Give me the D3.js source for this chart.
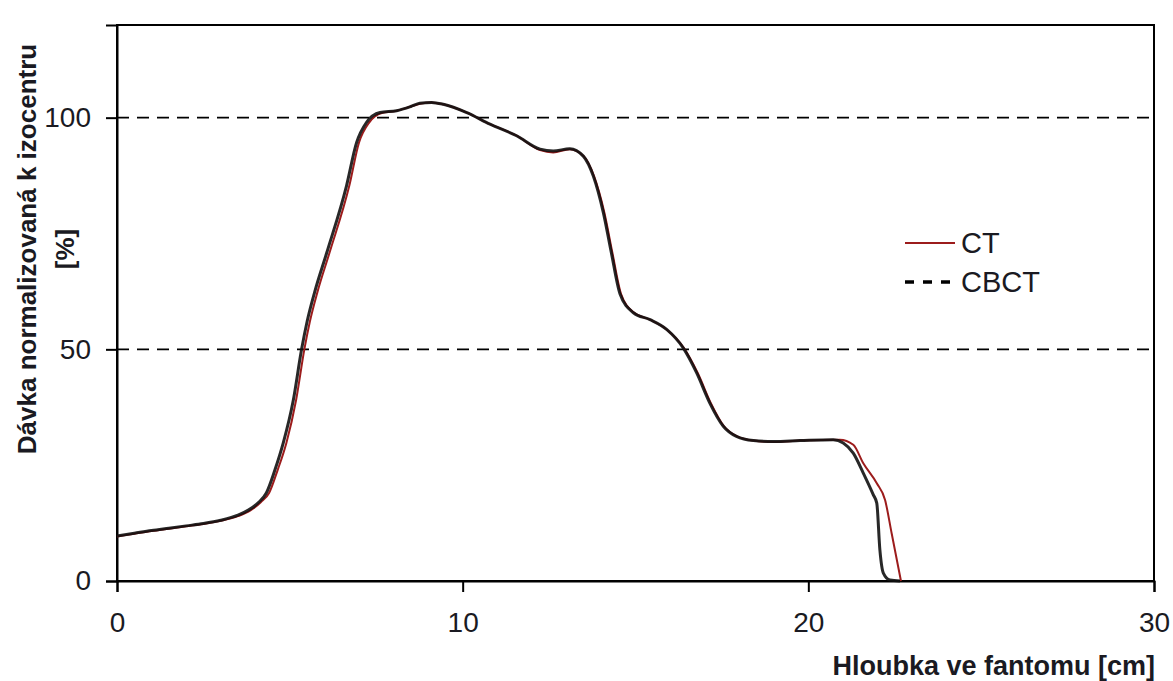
<!DOCTYPE html>
<html>
<head>
<meta charset="utf-8">
<script src="https://cdn.jsdelivr.net/npm/d3@7"></script>
<style>
  body { margin: 0; background: #fff; }
  text { font-family: "Liberation Sans", Arial, sans-serif; }
</style>
</head>
<body>
<script>
let w = 1173;
let h = 681;
let margin = {top: 25, right: 19, bottom: 100, left: 117};

// hloubka [cm] a davka [%] - CBCT
let cbctDepth = [0, 0.5, 1, 1.5, 2, 2.5, 3, 3.5, 3.8, 4.1, 4.32, 4.57, 4.81, 5.1, 5.34, 5.5, 5.72, 6.07, 6.64, 6.93, 7.22, 7.61, 8.09, 8.5, 8.76, 9.1, 9.44, 10.12, 10.79, 11.56, 12.24, 12.62, 13.1, 13.49, 13.78, 14.07, 14.3, 14.55, 14.94, 15.42, 15.9, 16.38, 16.77, 17.15, 17.54, 17.92, 18.41, 19.0, 19.76, 20.72, 21.01, 21.3, 21.59, 21.88, 21.98, 22.07, 22.17, 22.36, 22.65];
let cbctDose  = [9.7, 10.3, 10.9, 11.4, 11.9, 12.4, 13.1, 14.2, 15.3, 17.0, 19.0, 24.0, 29.8, 39.0, 50.0, 56.0, 62.4, 70.9, 85.3, 94.6, 99.0, 101.1, 101.5, 102.4, 103.1, 103.3, 102.9, 101.1, 98.6, 96.1, 93.2, 92.8, 93.3, 91.7, 87.4, 79.5, 70.9, 62.0, 57.9, 56.4, 54.3, 50.3, 44.9, 38.4, 33.4, 31.2, 30.3, 30.1, 30.3, 30.5, 29.8, 27.6, 23.3, 18.6, 16.8, 6.7, 1.7, 0.2, 0];

// CT
let ctDepth = [0, 0.5, 1, 1.5, 2, 2.5, 3, 3.5, 3.85, 4.16, 4.4, 4.65, 4.9, 5.18, 5.42, 5.58, 5.8, 6.15, 6.72, 7.0, 7.3, 7.66, 8.1, 8.5, 8.76, 9.1, 9.44, 10.12, 10.79, 11.56, 12.24, 12.62, 13.1, 13.5, 13.8, 14.1, 14.33, 14.58, 14.96, 15.42, 15.9, 16.4, 16.8, 17.18, 17.56, 17.94, 18.41, 19.0, 19.76, 20.91, 21.3, 21.59, 21.98, 22.22, 22.41, 22.68];
let ctDose  = [9.6, 10.2, 10.8, 11.3, 11.8, 12.3, 13.0, 14.0, 15.2, 17.0, 19.0, 24.0, 29.8, 39.0, 50.0, 56.0, 62.4, 70.9, 85.3, 94.6, 99.0, 101.0, 101.5, 102.4, 103.0, 103.3, 102.9, 101.1, 98.6, 96.1, 93.0, 92.5, 93.2, 91.7, 87.4, 79.5, 70.9, 62.0, 57.9, 56.4, 54.3, 50.3, 44.9, 38.4, 33.4, 31.2, 30.3, 30.0, 30.3, 30.5, 29.4, 25.4, 21.1, 17.5, 10.3, 0];

let xTicks = [0, 10, 20, 30];
let yTicks = [0, 50, 100];
let gridValues = [50, 100];
let seriesNames = ["CT", "CBCT"];

let svg = d3.select("body")
            .append("svg")
            .attr("width", w)
            .attr("height", h);

let x = d3.scaleLinear([0, 30], [margin.left, w - margin.right]);
let y = d3.scaleLinear([0, 120], [h - margin.bottom, margin.top]);

// mrizka
svg.selectAll(".grid")
   .data(gridValues)
   .enter()
   .append("line")
   .attr("x1", x(0))
   .attr("x2", x(30))
   .attr("y1", d => y(d))
   .attr("y2", d => y(d))
   .attr("stroke", "#000")
   .attr("stroke-width", 1.6)
   .attr("stroke-dasharray", "12,8");

// ramecek
svg.append("rect")
   .attr("x", x(0))
   .attr("y", y(120))
   .attr("width", x(30) - x(0))
   .attr("height", y(0) - y(120))
   .attr("fill", "none")
   .attr("stroke", "#000")
   .attr("stroke-width", 2);

let xAxis = d3.axisBottom(x).tickValues(xTicks).tickSize(11).tickPadding(20);
let yAxis = d3.axisLeft(y).tickValues(yTicks).tickSize(11).tickPadding(15);

let gx = svg.append("g")
   .attr("transform", `translate(0, ${y(0)})`)
   .call(xAxis);
let gy = svg.append("g")
   .attr("transform", `translate(${x(0)}, 0)`)
   .call(yAxis);

[gx, gy].forEach(g => {
   g.select(".domain").attr("stroke", "#000").attr("stroke-width", 2);
   g.selectAll(".tick line").attr("stroke", "#000").attr("stroke-width", 2);
   g.selectAll(".tick text")
    .attr("fill", "#1a1a22")
    .style("font-size", "28px")
    .style("font-family", "'Liberation Sans', Arial, sans-serif");
});

let line = d3.line()
             .x(d => x(d[0]))
             .y(d => y(d[1]))
             .curve(d3.curveMonotoneX);

let cbct = d3.zip(cbctDepth, cbctDose);
let ct = d3.zip(ctDepth, ctDose);

svg.append("path")
   .datum(ct)
   .attr("d", line)
   .attr("fill", "none")
   .attr("stroke", "#9c1c1c")
   .attr("stroke-width", 2);

svg.append("path")
   .datum(cbct)
   .attr("d", line)
   .attr("fill", "none")
   .attr("stroke", "#111")
   .attr("stroke-width", 3)
   .attr("stroke-opacity", 0.9);

// popisky os
svg.append("text")
   .text("Hloubka ve fantomu [cm]")
   .attr("x", 1155)
   .attr("y", 675)
   .attr("text-anchor", "end")
   .attr("font-weight", "bold")
   .attr("font-size", 27)
   .attr("fill", "#1a1a22");

let yTitle = svg.append("text")
   .attr("transform", "translate(27, 249) rotate(-90)")
   .attr("text-anchor", "middle")
   .attr("font-weight", "bold")
   .attr("font-size", 26)
   .attr("fill", "#1a1a22");
yTitle.append("tspan")
   .attr("x", 0)
   .attr("dy", "0.35em")
   .text("Dávka normalizovaná k izocentru");
yTitle.append("tspan")
   .attr("x", 0)
   .attr("dy", "1.45em")
   .text("[%]");

// legenda
let legend = svg.append("g").attr("transform", "translate(905, 243)");
legend.append("line")
      .attr("x1", 0).attr("x2", 50)
      .attr("y1", 0).attr("y2", 0)
      .attr("stroke", "#9c1c1c")
      .attr("stroke-width", 2);
legend.append("line")
      .attr("x1", 0).attr("x2", 50)
      .attr("y1", 39).attr("y2", 39)
      .attr("stroke", "#000")
      .attr("stroke-width", 3.5)
      .attr("stroke-dasharray", "9,9");
legend.selectAll("text")
      .data(seriesNames)
      .enter()
      .append("text")
      .text(d => d)
      .attr("x", 56)
      .attr("y", (d, i) => i * 39)
      .attr("dy", "0.36em")
      .attr("font-size", 29)
      .attr("fill", "#1a1a22");
</script>
</body>
</html>
